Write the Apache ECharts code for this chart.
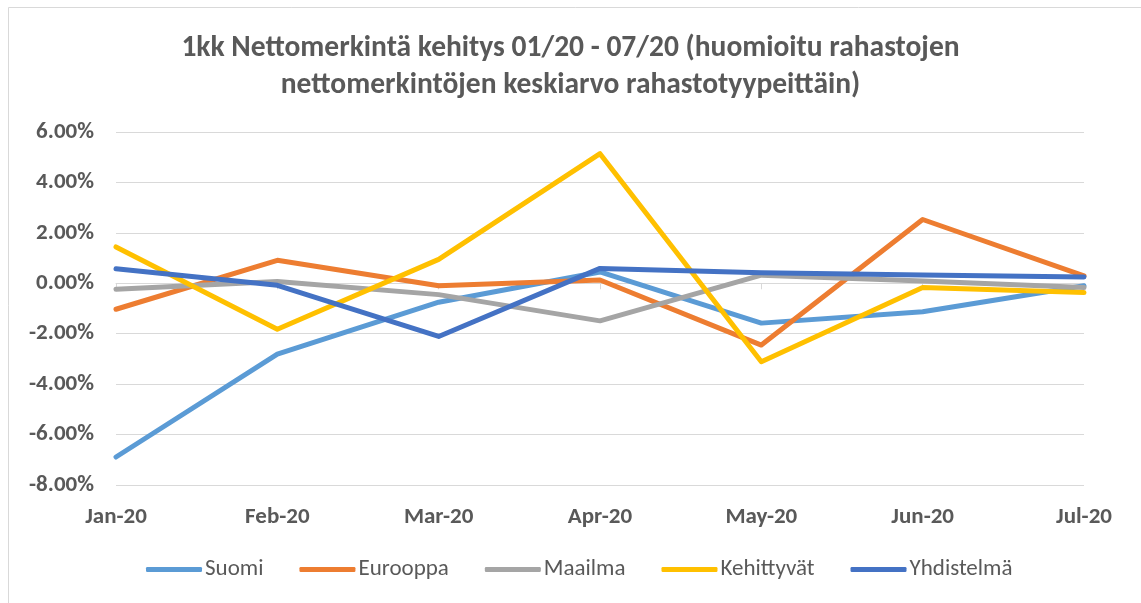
<!DOCTYPE html>
<html>
<head>
<meta charset="utf-8">
<script src="https://cdn.jsdelivr.net/npm/echarts@6/dist/echarts.min.js"></script>
<style>
  html, body { margin: 0; padding: 0; background: #fff; }
  #chart { width: 1141px; height: 603px; }
</style>
</head>
<body>
<div id="chart"></div>
<script>
// kuukaudet
var months = ['Jan-20', 'Feb-20', 'Mar-20', 'Apr-20', 'May-20', 'Jun-20', 'Jul-20']
// nettomerkinnät, %
var suomi = [-6.89, -2.81, -0.75, 0.45, -1.58, -1.13, -0.1]
var eurooppa = [-1.03, 0.91, -0.1, 0.13, -2.45, 2.53, 0.29]
var maailma = [-0.24, 0.07, -0.45, -1.49, 0.32, 0.09, -0.17]
var kehittyvat = [1.44, -1.82, 0.95, 5.14, -3.11, -0.17, -0.37]
var yhdistelma = [0.58, -0.08, -2.11, 0.59, 0.42, 0.33, 0.25]

var textColor = '#595959'
var gridColor = '#d9d9d9'
var fontFamily = 'Carlito, "Open Sans", "Liberation Sans", sans-serif'

function line(name, data, color) {
  return {
    name: name,
    type: 'line',
    data: data,
    symbol: 'none',
    xAxisIndex: 0,
    lineStyle: { width: 5, color: color, cap: 'round', join: 'round' },
    itemStyle: { color: color }
  }
}

var chart = echarts.init(document.getElementById('chart'))
chart.setOption({
  backgroundColor: '#fff',
  animation: false,
  // ulkoreunus (oikea ja ala rajautuvat kuvan ulkopuolelle)
  graphic: [{
    type: 'rect',
    shape: { x: 8.5, y: 7.5, width: 1200, height: 700 },
    style: { fill: 'none', stroke: gridColor, lineWidth: 1 },
    silent: true
  }],
  title: {
    text: '1kk Nettomerkintä kehitys 01/20 - 07/20 (huomioitu rahastojen\nnettomerkintöjen keskiarvo rahastotyypeittäin)',
    left: 'center',
    top: 25,
    textStyle: {
      fontFamily: fontFamily,
      fontSize: 29.5,
      fontWeight: 'bold',
      color: textColor,
      lineHeight: 37
    }
  },
  legend: {
    top: 553,
    left: 141,
    icon: 'roundRect',
    itemWidth: 56,
    itemHeight: 5,
    itemGap: 36,
    textStyle: { fontFamily: fontFamily, fontSize: 23, color: textColor, padding: [0, 0, 0, -2] },
    data: ['Suomi', 'Eurooppa', 'Maailma', 'Kehittyvät', 'Yhdistelmä']
  },
  grid: { left: 116, right: 57, top: 132, bottom: 118 },
  xAxis: [{
    type: 'category',
    data: months,
    boundaryGap: false,
    axisLine: { show: false, onZero: false },
    axisTick: { show: false },
    axisLabel: {
      margin: 21,
      fontFamily: fontFamily,
      fontSize: 23,
      fontWeight: 'bold',
      color: textColor
    }
  }, {
    // nolla-akseli tikkeineen
    type: 'category',
    data: months,
    boundaryGap: false,
    position: 'bottom',
    axisLine: { show: true, onZero: true, lineStyle: { color: gridColor, width: 1 } },
    axisTick: { show: true, length: 6, inside: false, lineStyle: { color: gridColor } },
    axisLabel: { show: false }
  }],
  yAxis: {
    type: 'value',
    min: -8,
    max: 6,
    interval: 2,
    axisLine: { show: false },
    axisTick: { show: false },
    splitLine: { lineStyle: { color: gridColor, width: 1 } },
    axisLabel: {
      margin: 22,
      fontFamily: fontFamily,
      fontSize: 23,
      fontWeight: 'bold',
      color: textColor,
      formatter: function (v) { return v.toFixed(2) + '%' }
    }
  },
  series: [
    line('Suomi', suomi, '#5b9bd5'),
    line('Eurooppa', eurooppa, '#ed7d31'),
    line('Maailma', maailma, '#a5a5a5'),
    line('Kehittyvät', kehittyvat, '#ffc000'),
    line('Yhdistelmä', yhdistelma, '#4472c4')
  ]
})
</script>
</body>
</html>
